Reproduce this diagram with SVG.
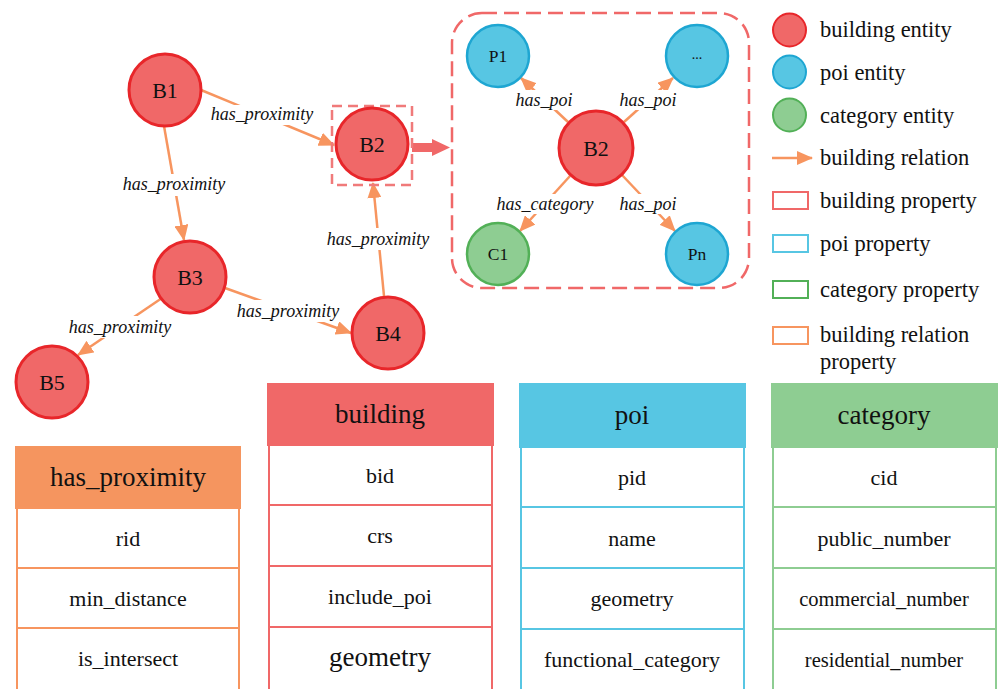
<svg xmlns="http://www.w3.org/2000/svg" width="998" height="689" viewBox="0 0 998 689">
<style>
.nl,.sl,.el,.lg,.th,.tr,.ts,.dt{fill:#111;text-anchor:middle;dominant-baseline:central}
.bn{fill:#f06868;stroke:#e8262a;stroke-width:3}
.pn{fill:#57c6e3;stroke:#1ea6d2;stroke-width:2.5}
.cn{fill:#8ecd92;stroke:#52b057;stroke-width:2.5}
.nl{font-size:22px}
.sl{font-size:17.5px}
.dt{font-size:14px}
.el{font-size:18px;font-style:italic}
.e{stroke:#f7955f;stroke-width:2.5;fill:none}
.lb{fill:#fff;stroke:none}
.lg{font-size:22.5px;text-anchor:start}
.th{font-size:27px}
.tr{font-size:22px}
.ts{font-size:20.5px}
</style>
<defs>
<marker id="ah" viewBox="0 0 16 14" refX="15" refY="7" markerWidth="16" markerHeight="14" markerUnits="userSpaceOnUse" orient="auto">
<path d="M0,0 L16,7 L0,14 z" fill="#f7955f"/>
</marker>
</defs>

<g id="connectors">
<line class="e" x1="201" y1="90" x2="334" y2="145" marker-end="url(#ah)"/>
<rect class="lb" x="207" y="105" width="110" height="20"/>
<text class="el" style="font-family:'Liberation Serif',serif" x="262" y="114">has_proximity</text>
<line class="e" x1="164" y1="126" x2="184" y2="240" marker-end="url(#ah)"/>
<rect class="lb" x="119" y="174" width="111" height="22"/>
<text class="el" style="font-family:'Liberation Serif',serif" x="174" y="184">has_proximity</text>
<line class="e" x1="225" y1="288" x2="351" y2="333" marker-end="url(#ah)"/>
<rect class="lb" x="233" y="300" width="110" height="22"/>
<text class="el" style="font-family:'Liberation Serif',serif" x="288" y="311">has_proximity</text>
<line class="e" x1="162" y1="298" x2="78" y2="355" marker-end="url(#ah)"/>
<rect class="lb" x="65" y="316" width="110" height="22"/>
<text class="el" style="font-family:'Liberation Serif',serif" x="120" y="327">has_proximity</text>
<line class="e" x1="384" y1="296" x2="373" y2="183" marker-end="url(#ah)"/>
<rect class="lb" x="323" y="228" width="111" height="22"/>
<text class="el" style="font-family:'Liberation Serif',serif" x="378" y="239">has_proximity</text>

<path d="M412,143 H432 V139 L450,147.5 L432,156 V152 H412 z" fill="#f06868"/>

<line class="e" x1="568" y1="122" x2="521" y2="78" marker-end="url(#ah)"/>
<rect class="lb" x="513" y="90" width="62" height="20"/>
<text class="el" style="font-family:'Liberation Serif',serif" x="544" y="100">has_poi</text>
<line class="e" x1="624" y1="122" x2="673" y2="78" marker-end="url(#ah)"/>
<rect class="lb" x="617" y="90" width="62" height="20"/>
<text class="el" style="font-family:'Liberation Serif',serif" x="648" y="100">has_poi</text>
<line class="e" x1="570" y1="176" x2="520" y2="231" marker-end="url(#ah)"/>
<rect class="lb" x="494" y="194" width="103" height="20"/>
<text class="el" style="font-family:'Liberation Serif',serif" x="545" y="204">has_category</text>
<line class="e" x1="622" y1="175" x2="675" y2="231" marker-end="url(#ah)"/>
<rect class="lb" x="617" y="194" width="62" height="20"/>
<text class="el" style="font-family:'Liberation Serif',serif" x="648" y="204">has_poi</text>
</g>

<g id="b2-highlight">
<rect x="332" y="106" width="80" height="79" fill="none" stroke="#f07a7a" stroke-width="2.5" stroke-dasharray="10 6"/>
</g>
<g id="b2-detail">
<rect x="452" y="13" width="297" height="275" rx="30" fill="none" stroke="#f06868" stroke-width="2.5" stroke-dasharray="15 7"/>
</g>

<g id="node-B1"><circle class="bn" cx="165" cy="90" r="36"/><text class="nl" style="font-family:'Liberation Serif',serif" x="165" y="90">B1</text></g>
<g id="node-B2"><circle class="bn" cx="372" cy="144" r="36"/><text class="nl" style="font-family:'Liberation Serif',serif" x="372" y="144">B2</text></g>
<g id="node-B3"><circle class="bn" cx="190" cy="277" r="36"/><text class="nl" style="font-family:'Liberation Serif',serif" x="190" y="277">B3</text></g>
<g id="node-B4"><circle class="bn" cx="388" cy="333" r="36"/><text class="nl" style="font-family:'Liberation Serif',serif" x="388" y="333">B4</text></g>
<g id="node-B5"><circle class="bn" cx="52" cy="382" r="36"/><text class="nl" style="font-family:'Liberation Serif',serif" x="52" y="382">B5</text></g>

<g id="node-P1"><circle class="pn" cx="498" cy="56" r="31"/><text class="sl" style="font-family:'Liberation Serif',serif" x="498" y="56">P1</text></g>
<g id="node-Pdots"><circle class="pn" cx="697" cy="56" r="31"/><text class="dt" style="font-family:'Liberation Serif',serif" x="697" y="54">...</text></g>
<g id="node-B2-inner"><circle class="bn" cx="596" cy="148" r="37"/><text class="nl" style="font-family:'Liberation Serif',serif" x="596" y="148">B2</text></g>
<g id="node-C1"><circle class="cn" cx="498" cy="254" r="31"/><text class="sl" style="font-family:'Liberation Serif',serif" x="498" y="254">C1</text></g>
<g id="node-Pn"><circle class="pn" cx="697" cy="254" r="31"/><text class="sl" style="font-family:'Liberation Serif',serif" x="697" y="254">Pn</text></g>

<g id="legend">
<circle class="bn" cx="789.5" cy="30" r="16.5" style="stroke-width:2"/>
<text class="lg" style="font-family:'Liberation Serif',serif" x="820" y="29">building entity</text>
<circle class="pn" cx="789.5" cy="72" r="16.5" style="stroke-width:2"/>
<text class="lg" style="font-family:'Liberation Serif',serif" x="820" y="72">poi entity</text>
<circle class="cn" cx="789.5" cy="115" r="16.5" style="stroke-width:2"/>
<text class="lg" style="font-family:'Liberation Serif',serif" x="820" y="115">category entity</text>
<line class="e" x1="772" y1="158" x2="812" y2="158" marker-end="url(#ah)"/>
<text class="lg" style="font-family:'Liberation Serif',serif" x="820" y="157">building relation</text>
<rect x="773" y="192" width="35" height="17" fill="none" stroke="#f06868" stroke-width="2"/>
<text class="lg" style="font-family:'Liberation Serif',serif" x="820" y="200">building property</text>
<rect x="773" y="235" width="35" height="17" fill="none" stroke="#57c6e3" stroke-width="2"/>
<text class="lg" style="font-family:'Liberation Serif',serif" x="820" y="243">poi property</text>
<rect x="773" y="281" width="35" height="17" fill="none" stroke="#52b057" stroke-width="2"/>
<text class="lg" style="font-family:'Liberation Serif',serif" x="820" y="289">category property</text>
<rect x="773" y="327" width="35" height="17" fill="none" stroke="#f7955f" stroke-width="2"/>
<text class="lg" style="font-family:'Liberation Serif',serif" x="820" y="334">building relation</text>
<text class="lg" style="font-family:'Liberation Serif',serif" x="820" y="361">property</text>
</g>

<g id="table-has_proximity" stroke="#f7955f" stroke-width="2">
<rect x="16" y="447" width="224" height="61" fill="#f5955f" stroke="#f5955f"/>
<rect x="17" y="508" width="222" height="60" fill="#fff"/>
<rect x="17" y="568" width="222" height="60" fill="#fff"/>
<rect x="17" y="628" width="222" height="62" fill="#fff"/>
<g stroke="none">
<text class="th" style="font-family:'Liberation Serif',serif" x="128" y="477">has_proximity</text>
<text class="tr" style="font-family:'Liberation Serif',serif" x="128" y="538">rid</text>
<text class="tr" style="font-family:'Liberation Serif',serif" x="128" y="598">min_distance</text>
<text class="tr" style="font-family:'Liberation Serif',serif" x="128" y="658">is_intersect</text>
</g>
</g>

<g id="table-building" stroke="#f06868" stroke-width="2">
<rect x="268" y="384" width="225" height="61" fill="#f06868"/>
<rect x="269" y="445" width="223" height="60" fill="#fff"/>
<rect x="269" y="505" width="223" height="61" fill="#fff"/>
<rect x="269" y="566" width="223" height="61" fill="#fff"/>
<rect x="269" y="627" width="223" height="63" fill="#fff"/>
<g stroke="none">
<text class="th" style="font-family:'Liberation Serif',serif" x="380" y="414">building</text>
<text class="tr" style="font-family:'Liberation Serif',serif" x="380" y="475">bid</text>
<text class="tr" style="font-family:'Liberation Serif',serif" x="380" y="535">crs</text>
<text class="tr" style="font-family:'Liberation Serif',serif" x="380" y="596">include_poi</text>
<text class="th" style="font-family:'Liberation Serif',serif" x="380" y="657">geometry</text>
</g>
</g>

<g id="table-poi" stroke="#57c6e3" stroke-width="2">
<rect x="520" y="384" width="225" height="63" fill="#57c6e3"/>
<rect x="521" y="447" width="223" height="60" fill="#fff"/>
<rect x="521" y="507" width="223" height="61" fill="#fff"/>
<rect x="521" y="568" width="223" height="61" fill="#fff"/>
<rect x="521" y="629" width="223" height="61" fill="#fff"/>
<g stroke="none">
<text class="th" style="font-family:'Liberation Serif',serif" x="632" y="415">poi</text>
<text class="tr" style="font-family:'Liberation Serif',serif" x="632" y="477">pid</text>
<text class="tr" style="font-family:'Liberation Serif',serif" x="632" y="538">name</text>
<text class="tr" style="font-family:'Liberation Serif',serif" x="632" y="598">geometry</text>
<text class="tr" style="font-family:'Liberation Serif',serif" x="632" y="659">functional_category</text>
</g>
</g>

<g id="table-category" stroke="#8ecd92" stroke-width="2">
<rect x="772" y="384" width="225" height="63" fill="#8ecd92"/>
<rect x="773" y="447" width="223" height="60" fill="#fff"/>
<rect x="773" y="507" width="223" height="61" fill="#fff"/>
<rect x="773" y="568" width="223" height="61" fill="#fff"/>
<rect x="773" y="629" width="223" height="61" fill="#fff"/>
<g stroke="none">
<text class="th" style="font-family:'Liberation Serif',serif" x="884" y="415">category</text>
<text class="tr" style="font-family:'Liberation Serif',serif" x="884" y="477">cid</text>
<text class="tr" style="font-family:'Liberation Serif',serif" x="884" y="538">public_number</text>
<text class="ts" style="font-family:'Liberation Serif',serif" x="884" y="599">commercial_number</text>
<text class="ts" style="font-family:'Liberation Serif',serif" x="884" y="660">residential_number</text>
</g>
</g>
</svg>
